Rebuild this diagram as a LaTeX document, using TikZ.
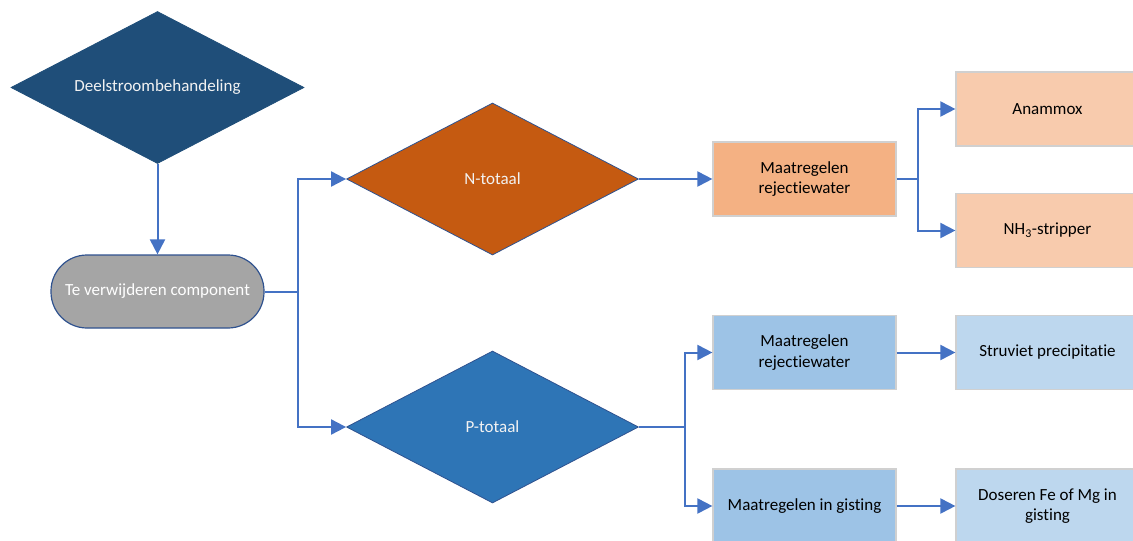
\documentclass[tikz,border=0pt]{standalone}
\usepackage{fontspec}
\setmainfont{Carlito}[Ligatures={NoCommon}]
\usetikzlibrary{shapes.geometric,arrows.meta}
\definecolor{darkblue}{HTML}{1F4E79}
\definecolor{orangeD}{HTML}{C55A11}
\definecolor{blueD}{HTML}{2E75B6}
\definecolor{outlineB}{HTML}{2F528F}
\definecolor{grayT}{HTML}{A5A5A5}
\definecolor{orangeB}{HTML}{F4B183}
\definecolor{orangeL}{HTML}{F8CBAD}
\definecolor{blueB}{HTML}{9DC3E6}
\definecolor{blueL}{HTML}{BDD7EE}
\definecolor{lineC}{HTML}{4472C4}
\definecolor{boxline}{HTML}{D0D0D0}
\tikzset{
  txt/.style={font=\fontsize{17}{20.5}\selectfont},
  dia/.style={diamond, draw=outlineB, line width=0.8pt, inner sep=0pt, minimum width=292pt, minimum height=152pt},
  dlabel/.style={label={[txt, text=white!95!black]center:#1}},
  term/.style={rectangle, rounded corners=36pt, draw=outlineB, line width=1.2pt, fill=grayT, minimum width=213pt, minimum height=73pt, text=white, txt},
  box/.style={rectangle, draw=boxline, line width=1.2pt, minimum width=183pt, minimum height=74pt, align=center, txt},
  conn/.style={draw=lineC, line width=2pt},
  arr/.style={conn, -{Triangle[length=15pt,width=15pt]}}
}
\begin{document}
\begin{tikzpicture}[x=1pt,y=-1pt]
\useasboundingbox (0,0) rectangle (1133,541);
\clip (0,0) rectangle (1133,541);
\node[dia, fill=darkblue, draw=darkblue, minimum width=293pt, dlabel={Deelstroombehandeling}] (d0) at (157.5,87.5) {};
\node[term] (tc) at (157.5,291.5) {Te verwijderen component};
\node[dia, fill=orangeD, dlabel={N-totaal}] (dn) at (492.5,179) {};
\node[dia, fill=blueD, dlabel={P-totaal}] (dp) at (492.5,427) {};
\node[box, fill=orangeB] (bn) at (804.5,179) {Maatregelen\\rejectiewater};
\node[box, fill=orangeL] (ana) at (1047.5,109) {Anammox};
\node[box, fill=orangeL] (nh) at (1047.5,230.5) {NH\textsubscript{3}-stripper};
\node[box, fill=blueB] (bp1) at (804.5,352.5) {Maatregelen\\rejectiewater};
\node[box, fill=blueB] (bp2) at (804.5,506) {Maatregelen in gisting};
\node[box, fill=blueL] (st) at (1047.5,352.5) {Struviet precipitatie};
\node[box, fill=blueL] (dos) at (1047.5,506) {Doseren Fe of Mg in\\gisting};
\coordinate (j1) at (298,291.5);
\coordinate (j2) at (918,179);
\coordinate (j3) at (685,427);
\draw[arr] (d0.south) -- (tc.north);
\draw[conn] (tc.east) -- (j1);
\draw[arr] (j1) |- (dn.west);
\draw[arr] (j1) |- (dp.west);
\draw[arr] (dn.east) -- (bn.west);
\draw[conn] (bn.east) -- (j2);
\draw[arr] (j2) |- (ana.west);
\draw[arr] (j2) |- (nh.west);
\draw[conn] (dp.east) -- (j3);
\draw[arr] (j3) |- (bp1.west);
\draw[arr] (j3) |- (bp2.west);
\draw[arr] (bp1.east) -- (st.west);
\draw[arr] (bp2.east) -- (dos.west);
\end{tikzpicture}
\end{document}
